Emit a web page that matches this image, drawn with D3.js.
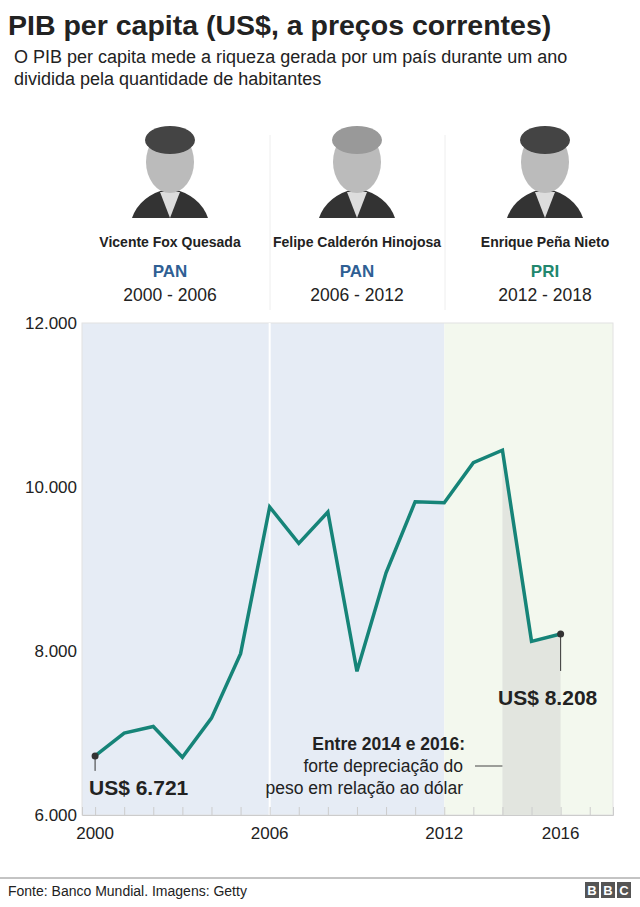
<!DOCTYPE html>
<html><head><meta charset="utf-8">
<script src="https://cdn.jsdelivr.net/npm/d3@7"></script>
<style>body{margin:0;background:#fff;font-family:"Liberation Sans",Arial,sans-serif}</style>
</head><body><svg id="c" width="640" height="907"></svg>
<script>
const years=[2000,2001,2002,2003,2004,2005,2006,2007,2008,2009,2010,2011,2012,2013,2014,2015,2016];
const gdp=[6721,6998,7079,6705,7181,7967,9756,9312,9695,7752,8953,9821,9809,10297,10448,8118,8208];
const yTicks=[6000,8000,10000,12000];
const xTicks=[2000,2006,2012,2016];
const presidents=["Vicente Fox Quesada","Felipe Calderón Hinojosa","Enrique Peña Nieto"];
const parties=["PAN","PAN","PRI"];
const terms=["2000 - 2006","2006 - 2012","2012 - 2018"];

const svg=d3.select("#c");
const F="Liberation Sans, Arial, sans-serif";
svg.append("text").attr("x",8).attr("y",35).attr("font-size",28.5).attr("font-weight","bold").attr("fill","#222").attr("font-family",F).text("PIB per capita (US$, a preços correntes)");
["O PIB per capita mede a riqueza gerada por um país durante um ano","dividida pela quantidade de habitantes"].forEach((t,i)=>
 svg.append("text").attr("x",14).attr("y",63+i*22).attr("font-size",18).attr("fill","#222").attr("font-family",F).text(t));

const x=d3.scaleLinear().domain([1999.55,2017.8]).range([82,613]);
const y=d3.scaleLinear().domain([6000,12000]).range([815,323]);

const cx=[170,357,545];
[270,445].forEach(v=>svg.append("line").attr("x1",v).attr("x2",v).attr("y1",135).attr("y2",310).attr("stroke","#eee"));
cx.forEach((c,i)=>{
 const g=svg.append("g").attr("transform",`translate(${c},0)`);
 g.append("path").attr("d","M-38,218 Q-30,195 0,188 Q30,195 38,218 Z").attr("fill","#333");
 g.append("path").attr("d","M-10,192 L0,218 L10,192 Z").attr("fill","#ddd");
 g.append("ellipse").attr("cx",0).attr("cy",162).attr("rx",24).attr("ry",31).attr("fill","#bbb");
 g.append("ellipse").attr("cx",0).attr("cy",140).attr("rx",25).attr("ry",14).attr("fill",i==1?"#999":"#444");
 g.append("text").attr("y",247).attr("text-anchor","middle").attr("font-size",14).attr("font-weight","bold").attr("fill","#222").attr("font-family",F).text(presidents[i]);
 g.append("text").attr("y",277).attr("text-anchor","middle").attr("font-size",17).attr("font-weight","bold").attr("fill",parties[i]=="PRI"?"#22876e":"#2f5f94").attr("font-family",F).text(parties[i]);
 g.append("text").attr("y",301).attr("text-anchor","middle").attr("font-size",17.5).attr("fill","#222").attr("font-family",F).text(terms[i]);
});

svg.append("rect").attr("x",x.range()[0]).attr("y",y(12000)).attr("width",x(2012)-x.range()[0]).attr("height",y(6000)-y(12000)).attr("fill","#e6ecf5");
svg.append("rect").attr("x",x(2012)).attr("y",y(12000)).attr("width",x.range()[1]-x(2012)).attr("height",y(6000)-y(12000)).attr("fill","#f3f8ee");
svg.append("rect").attr("x",x.range()[0]).attr("y",y(12000)).attr("width",x.range()[1]-x.range()[0]).attr("height",y(6000)-y(12000)).attr("fill","none").attr("stroke","#e2e2e2");
svg.append("line").attr("x1",x(2006)).attr("x2",x(2006)).attr("y1",y(12000)).attr("y2",y(6000)).attr("stroke","#fff").attr("stroke-width",2);
const data=years.map((d,i)=>({year:d,v:gdp[i]}));
svg.append("path").datum(data.filter(d=>d.year>=2014)).attr("fill","#e2e5df")
 .attr("d",d3.area().x(d=>x(d.year)).y0(y(6000)).y1(d=>y(d.v)));

yTicks.forEach(t=>svg.append("text").attr("x",77).attr("y",y(t)+6).attr("text-anchor","end").attr("font-size",17).attr("fill","#222").attr("font-family",F).text(d3.format(",")(t).replace(/,/g,".")));
const ax=svg.append("g").attr("transform",`translate(0,${y(6000)})`).call(d3.axisBottom(x).tickValues(d3.range(2000,2018)).tickSize(-8).tickFormat(""));
ax.select(".domain").attr("stroke","#ccc");
ax.selectAll(".tick line").attr("stroke","#ccc");
xTicks.forEach(t=>svg.append("text").attr("x",x(t)).attr("y",839).attr("text-anchor","middle").attr("font-size",17).attr("fill","#222").attr("font-family",F).text(t));

svg.append("path").datum(data).attr("fill","none").attr("stroke","#168478").attr("stroke-width",3.5)
 .attr("d",d3.line().x(d=>x(d.year)).y(d=>y(d.v)));
[data[0],data[16]].forEach(d=>svg.append("circle").attr("cx",x(d.year)).attr("cy",y(d.v)).attr("r",3.5).attr("fill","#333"));
svg.append("line").attr("x1",x(2000)).attr("x2",x(2000)).attr("y1",y(6721)).attr("y2",y(6721)+15).attr("stroke","#333");
svg.append("line").attr("x1",x(2016)).attr("x2",x(2016)).attr("y1",y(8208)).attr("y2",y(8208)+37).attr("stroke","#333");
svg.append("text").attr("x",89).attr("y",795).attr("font-size",21).attr("font-weight","bold").attr("fill","#222").attr("font-family",F).text("US$ 6.721");
svg.append("text").attr("x",498).attr("y",705).attr("font-size",21).attr("font-weight","bold").attr("fill","#222").attr("font-family",F).text("US$ 8.208");
svg.append("text").attr("x",465).attr("y",750).attr("text-anchor","end").attr("font-size",17.5).attr("font-weight","bold").attr("fill","#222").attr("font-family",F).text("Entre 2014 e 2016:");
svg.append("text").attr("x",463).attr("y",772).attr("text-anchor","end").attr("font-size",17.5).attr("fill","#222").attr("font-family",F).text("forte depreciação do");
svg.append("text").attr("x",463).attr("y",794).attr("text-anchor","end").attr("font-size",17.5).attr("fill","#222").attr("font-family",F).text("peso em relação ao dólar");
svg.append("line").attr("x1",475).attr("x2",x(2014)).attr("y1",766).attr("y2",766).attr("stroke","#444");

svg.append("line").attr("x1",0).attr("x2",640).attr("y1",878).attr("y2",878).attr("stroke","#888");
svg.append("text").attr("x",8).attr("y",896).attr("font-size",14).attr("fill","#222").attr("font-family",F).text("Fonte: Banco Mundial. Imagens: Getty");
["B","B","C"].forEach((t,i)=>{
 svg.append("rect").attr("x",585+i*16).attr("y",882).attr("width",14).attr("height",16).attr("fill","#555");
 svg.append("text").attr("x",592+i*16).attr("y",895).attr("text-anchor","middle").attr("font-size",13).attr("font-weight","bold").attr("fill","#fff").attr("font-family",F).text(t);
});
</script></body></html>
